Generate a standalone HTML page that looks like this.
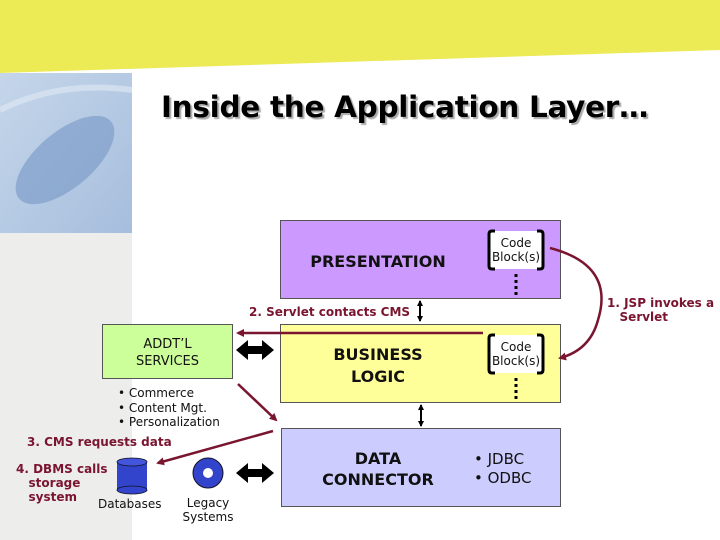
<!DOCTYPE html>
<html><head><style>
body{margin:0;width:720px;height:540px;overflow:hidden;background:#fff;font-family:"DejaVu Sans","Liberation Sans",sans-serif;position:relative}
.a{position:absolute}
.box{position:absolute;border:1px solid #555;box-sizing:border-box}
.t{position:absolute;text-align:center;font-weight:bold;color:#111}
.red{position:absolute;color:#7a1530;font-weight:bold;font-size:12px;line-height:14px}
</style></head><body>
<svg class="a" style="left:0;top:0" width="720" height="540">
<defs>
<linearGradient id="bl" x1="0" y1="0" x2="1" y2="1"><stop offset="0" stop-color="#c5d6ea"/><stop offset="1" stop-color="#a6bedd"/></linearGradient>
<marker id="ar" markerWidth="8" markerHeight="8" refX="6" refY="4" orient="auto" markerUnits="userSpaceOnUse"><path d="M0,0 L8,4 L0,8 z" fill="#7a1530"/></marker>
<marker id="bk" markerWidth="6" markerHeight="6" refX="5" refY="3" orient="auto-start-reverse" markerUnits="userSpaceOnUse"><path d="M0,0 L6,3 L0,6 z" fill="#000"/></marker>
</defs>
<polygon points="0,0 720,0 720,50 0,73" fill="#ecea55"/>
<rect x="0" y="73" width="132" height="467" fill="#ededec"/>
<rect x="0" y="73" width="132" height="160" fill="url(#bl)"/>
<ellipse cx="65" cy="160" rx="60" ry="28" transform="rotate(-40 65 160)" fill="#7f9ecb" opacity="0.7"/>
<path d="M0,110 Q60,80 132,90" stroke="#dce6f2" stroke-width="6" fill="none" opacity="0.7"/>
<path d="M236,350 l12,-10 v6 h14 v-6 l12,10 l-12,10 v-6 h-14 v6 z" fill="#000"/>
<path d="M236,473 l12,-10 v6 h14 v-6 l12,10 l-12,10 v-6 h-14 v6 z" fill="#000"/>
<line x1="420" y1="301" x2="420" y2="321" stroke="#000" stroke-width="2" marker-start="url(#bk)" marker-end="url(#bk)"/>
<line x1="421" y1="405" x2="421" y2="426" stroke="#000" stroke-width="2" marker-start="url(#bk)" marker-end="url(#bk)"/>
<rect x="117" y="462" width="30" height="28" fill="#3344cc"/>
<ellipse cx="132" cy="490" rx="15" ry="4" fill="#3344cc" stroke="#112" stroke-width="0.8"/>
<ellipse cx="132" cy="462" rx="15" ry="4" fill="#4455dd" stroke="#112" stroke-width="0.8"/>
<circle cx="208" cy="473" r="15" fill="#3344cc" stroke="#112"/>
<circle cx="208" cy="473" r="5" fill="#fff"/>
</svg>
<div class="a" style="left:161px;top:90px;font-size:29.5px;font-weight:bold;color:#000;text-shadow:2px 2px 1px #aaa;white-space:nowrap;letter-spacing:-0.3px">Inside the Application Layer…</div>

<div class="box" style="left:280px;top:220px;width:281px;height:79px;background:#cc99ff"></div>
<div class="box" style="left:280px;top:324px;width:281px;height:79px;background:#ffff99"></div>
<div class="box" style="left:281px;top:428px;width:280px;height:79px;background:#ccccff"></div>
<div class="box" style="left:102px;top:324px;width:131px;height:55px;background:#ccff99"></div>

<div class="t" style="left:280px;top:252px;width:196px;font-size:16px">PRESENTATION</div>
<div class="t" style="left:280px;top:344px;width:196px;font-size:16px;line-height:22px">BUSINESS<br>LOGIC</div>
<div class="t" style="left:280px;top:448px;width:196px;font-size:16px;line-height:21px">DATA<br>CONNECTOR</div>
<div class="a" style="left:102px;top:336px;width:131px;text-align:center;font-size:13px;line-height:17px;color:#111">ADDT’L<br>SERVICES</div>
<div class="a" style="left:118px;top:386px;font-size:12px;line-height:14.5px;color:#111">• Commerce<br>• Content Mgt.<br>• Personalization</div>
<div class="a" style="left:474px;top:450px;font-size:15px;line-height:19px;color:#111">• JDBC<br>• ODBC</div>
<div class="a" style="left:98px;top:497px;font-size:12px;color:#111">Databases</div>
<div class="a" style="left:178px;top:496px;width:60px;text-align:center;font-size:12px;line-height:14px;color:#111">Legacy<br>Systems</div>

<svg class="a" style="left:0;top:0" width="720" height="540">
<rect x="489" y="231" width="54" height="38" fill="#fff"/>
<path d="M495,231 h-3 q-3,0 -3,3 v32 q0,3 3,3 h3 M537,231 h3 q3,0 3,3 v32 q0,3 -3,3 h-3" stroke="#000" stroke-width="3" fill="none"/>
<line x1="516" y1="274" x2="516" y2="296" stroke="#000" stroke-width="3" stroke-dasharray="3,3"/>
<rect x="489" y="335" width="54" height="38" fill="#fff"/>
<path d="M495,335 h-3 q-3,0 -3,3 v32 q0,3 3,3 h3 M537,335 h3 q3,0 3,3 v32 q0,3 -3,3 h-3" stroke="#000" stroke-width="3" fill="none"/>
<line x1="516" y1="378" x2="516" y2="400" stroke="#000" stroke-width="3" stroke-dasharray="3,3"/>
<line x1="483" y1="333" x2="238" y2="333" stroke="#7a1530" stroke-width="2.5" marker-end="url(#ar)"/>
<line x1="238" y1="384" x2="276" y2="420" stroke="#7a1530" stroke-width="2.5" marker-end="url(#ar)"/>
<line x1="273" y1="431" x2="158" y2="463" stroke="#7a1530" stroke-width="2.5" marker-end="url(#ar)"/>
<path d="M550,248 Q615,265 598,320 Q590,350 560,358" stroke="#7a1530" stroke-width="2.5" fill="none" marker-end="url(#ar)"/>
</svg>
<div class="a" style="left:489px;top:236px;width:54px;text-align:center;font-size:12px;line-height:14px;color:#111">Code<br>Block(s)</div>
<div class="a" style="left:489px;top:340px;width:54px;text-align:center;font-size:12px;line-height:14px;color:#111">Code<br>Block(s)</div>

<div class="red" style="left:249px;top:305px">2. Servlet contacts CMS</div>
<div class="red" style="left:607px;top:296px">1. JSP invokes a<br>&nbsp;&nbsp;&nbsp;Servlet</div>
<div class="red" style="left:27px;top:435px">3. CMS requests data</div>
<div class="red" style="left:16px;top:462px">4. DBMS calls<br>&nbsp;&nbsp;&nbsp;storage<br>&nbsp;&nbsp;&nbsp;system</div>
</body></html>
